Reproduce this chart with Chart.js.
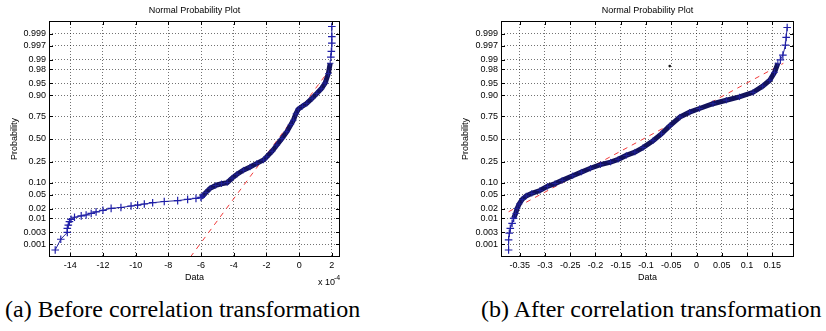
<!DOCTYPE html>
<html>
<head>
<meta charset="utf-8">
<script src="https://cdn.jsdelivr.net/npm/chart.js@4.4.0/dist/chart.umd.min.js"></script>
<style>
  html, body { margin: 0; padding: 0; background: #fff; }
  #page { position: relative; width: 826px; height: 331px; overflow: hidden; }
  .panel { position: absolute; top: 0; width: 413px; height: 295px; }
  .caption { position: absolute; top: 295px; font: 24px 'Liberation Serif', 'Times New Roman', serif;
             line-height: 28px; white-space: nowrap; color: #000; }
</style>
</head>
<body>
<div id="page">
  <div class="panel" style="left:0"><canvas id="plotA"></canvas></div>
  <div class="panel" style="left:413px"><canvas id="plotB"></canvas></div>
  <div class="caption" style="left:5px">(a) Before correlation transformation</div>
  <div class="caption" style="left:481px">(b) After correlation transformation</div>
</div>
<script>
// probability axis (same on both plots)
const probTicks = [0.001, 0.003, 0.01, 0.02, 0.05, 0.10, 0.25, 0.50, 0.75, 0.90, 0.95, 0.98, 0.99, 0.997, 0.999];
const probLabels = ['0.001', '0.003', '0.01', '0.02', '0.05', '0.10', '0.25', '0.50', '0.75', '0.90', '0.95', '0.98', '0.99', '0.997', '0.999'];

// (a) before correlation transformation, data in units of 1e-4
const ticksA = [-14, -12, -10, -8, -6, -4, -2, 0, 2];
const labelsA = ['-14', '-12', '-10', '-8', '-6', '-4', '-2', '0', '2'];
const lowA_x = [-14.92, -14.58, -14.18, -14.18, -14.12, -14.05, -13.95, -13.74, -13.33, -13.03, -12.72, -12.42,
                -12.0, -11.5, -10.9, -10.28, -9.88, -9.47, -8.96, -8.25, -7.43, -6.82, -6.31, -6.0];
const lowA_p = [0.00055, 0.0016, 0.003, 0.0043, 0.0057, 0.0075, 0.0091, 0.0107, 0.0119, 0.0127, 0.0143, 0.016,
                0.018, 0.0207, 0.022, 0.0244, 0.026, 0.028, 0.0305, 0.033, 0.035, 0.038, 0.0405, 0.043];
const bodyA_x = [-6.0, -5.9, -5.7, -5.44, -5.1, -4.75, -4.4, -4.1, -3.8, -3.41, -3.0, -2.59, -2.18, -1.98, -1.65,
                 -1.36, -1.05, -0.75, -0.5, -0.35, -0.2, -0.05, 0.2, 0.47, 0.8, 1.08, 1.35, 1.59, 1.79, 1.9];
const bodyA_p = [0.043, 0.047, 0.058, 0.074, 0.086, 0.094, 0.10, 0.125, 0.15, 0.18, 0.205, 0.237, 0.268, 0.30, 0.36,
                 0.43, 0.505, 0.585, 0.665, 0.71, 0.77, 0.81, 0.832, 0.853, 0.885, 0.91, 0.93, 0.95, 0.973, 0.987];
const highA_x = [1.94, 1.97, 2.0, 2.0, 2.0];
const highA_p = [0.992, 0.995, 0.9976, 0.9987, 0.99953];
const refA_x = [-6.65, 1.95];
const refA_p = [0.00026, 0.982];

// (b) after correlation transformation
const ticksB = [-0.35, -0.3, -0.25, -0.2, -0.15, -0.1, -0.05, 0, 0.05, 0.1, 0.15];
const labelsB = ['-0.35', '-0.3', '-0.25', '-0.2', '-0.15', '-0.1', '-0.05', '0', '0.05', '0.1', '0.15'];
const lowB_x = [-0.372, -0.372, -0.3706, -0.3686, -0.365, -0.362];
const lowB_p = [0.00055, 0.0015, 0.0028, 0.0043, 0.0066, 0.0099];
const bodyB_x = [-0.362, -0.358, -0.355, -0.351, -0.345, -0.337, -0.326, -0.31, -0.295, -0.28, -0.266, -0.245,
                 -0.228, -0.21, -0.19, -0.17, -0.155, -0.139, -0.122, -0.106, -0.086, -0.0695, -0.053, -0.033,
                 -0.0135, 0.006, 0.0326, 0.059, 0.085, 0.112, 0.131, 0.145, 0.1545, 0.161];
const bodyB_p = [0.0099, 0.0143, 0.0207, 0.028, 0.038, 0.047, 0.055, 0.065, 0.082, 0.095, 0.112, 0.14,
                 0.165, 0.195, 0.225, 0.248, 0.275, 0.315, 0.35, 0.40, 0.48, 0.56, 0.65, 0.74,
                 0.785, 0.815, 0.85, 0.873, 0.892, 0.915, 0.94, 0.958, 0.975, 0.987];
const highB_x = [0.166, 0.171, 0.176, 0.1775, 0.1795];
const highB_p = [0.990, 0.9932, 0.9971, 0.9986, 0.99948];
const refB_x = [-0.372, 0.172];
const refB_p = [0.0162, 0.987];
const speckB_x = [-0.053];
const speckB_p = [0.984];

// inverse normal cdf (Acklam)
function probit(p) {
  if (!(p > 0 && p < 1)) return NaN;
  const a = [-39.69683028665376, 220.9460984245205, -275.9285104469687, 138.3577518672690, -30.66479806614716, 2.506628277459239];
  const b = [-54.47609879822406, 161.5858368580409, -155.6989798598866, 66.80131188771972, -13.28068155288572];
  const c = [-0.007784894002430293, -0.3223964580411365, -2.400758277161838, -2.549732539343734, 4.374664141464968, 2.938163982698783];
  const d = [0.007784695709041462, 0.3224671290700398, 2.445134137142996, 3.754408661907416];
  const tail = q => (((((c[0] * q + c[1]) * q + c[2]) * q + c[3]) * q + c[4]) * q + c[5]) /
                    ((((d[0] * q + d[1]) * q + d[2]) * q + d[3]) * q + 1);
  if (p < 0.02425) return tail(Math.sqrt(-2 * Math.log(p)));
  if (p > 1 - 0.02425) return -tail(Math.sqrt(-2 * Math.log(1 - p)));
  const q = p - 0.5, r = q * q;
  return (((((a[0] * r + a[1]) * r + a[2]) * r + a[3]) * r + a[4]) * r + a[5]) * q /
         (((((b[0] * r + b[1]) * r + b[2]) * r + b[3]) * r + b[4]) * r + 1);
}

// linear in z, values given as probabilities
class ProbitScale extends Chart.LinearScale {
  determineDataLimits() {
    this.min = this.options.zMin ?? -3.47;
    this.max = this.options.zMax ?? 3.47;
  }
  buildTicks() {
    return probTicks.map(p => ({ value: p }));
  }
  getPixelForValue(value) {
    return super.getPixelForValue(probit(value));
  }
}
ProbitScale.id = 'probit';
ProbitScale.defaults = {};
Chart.register(ProbitScale);

const pts = (xs, ps) => xs.map((x, i) => ({ x: x, y: ps[i] }));
const tickFont = { family: "'Liberation Sans', Arial, sans-serif", size: 9 };
const gridColor = 'rgba(0,0,0,0.55)';

const frame = {
  id: 'frame',
  afterDraw(chart, args, opts) {
    const { ctx, chartArea: a, scales } = chart;
    ctx.save();
    ctx.strokeStyle = '#000';
    ctx.lineWidth = 1;
    ctx.strokeRect(a.left + 0.5, a.top + 0.5, a.width - 1, a.height - 1);
    ctx.beginPath();
    scales.x.ticks.forEach((t, i) => {
      const px = Math.round(scales.x.getPixelForTick(i)) + 0.5;
      ctx.moveTo(px, a.bottom); ctx.lineTo(px, a.bottom - 4);
      ctx.moveTo(px, a.top); ctx.lineTo(px, a.top + 4);
    });
    scales.y.ticks.forEach((t, i) => {
      const py = Math.round(scales.y.getPixelForTick(i)) + 0.5;
      ctx.moveTo(a.left, py); ctx.lineTo(a.left + 4, py);
      ctx.moveTo(a.right, py); ctx.lineTo(a.right - 4, py);
    });
    ctx.stroke();
    ctx.fillStyle = '#000';
    ctx.font = "9px 'Liberation Sans', Arial, sans-serif";
    ctx.textAlign = 'center';
    ctx.textBaseline = 'middle';
    ctx.fillText(opts.title, (a.left + a.right) / 2, 11);
    if (opts.exponent) {
      ctx.textAlign = 'left';
      ctx.fillText('x 10', a.right - 22, a.bottom + 26);
      ctx.font = "7px 'Liberation Sans', Arial, sans-serif";
      ctx.fillText(opts.exponent, a.right - 6, a.bottom + 21);
    }
    ctx.restore();
  }
};

function makePlot(id, cfg) {
  new Chart(document.getElementById(id), {
    type: 'scatter',
    data: {
      datasets: [
        { data: pts(cfg.low[0], cfg.low[1]), showLine: true, borderColor: '#2a2a9c', borderWidth: 1,
          pointStyle: 'cross', pointRadius: 3.8, pointBorderWidth: 1.2, pointBorderColor: '#1f1fa8' },
        { data: pts(cfg.high[0], cfg.high[1]), showLine: true, borderColor: '#2a2a9c', borderWidth: 1,
          pointStyle: 'cross', pointRadius: 3.8, pointBorderWidth: 1.2, pointBorderColor: '#1f1fa8' },
        { data: pts(cfg.body[0], cfg.body[1]), showLine: true, borderColor: '#12125c', borderWidth: 5,
          pointStyle: 'cross', pointRadius: 3.2, pointBorderWidth: 1, pointBorderColor: '#22229a' },
        { data: cfg.speck ? pts(cfg.speck[0], cfg.speck[1]) : [], pointStyle: 'circle', pointRadius: 1.3,
          pointBorderWidth: 0, pointBackgroundColor: '#111' },
        { data: pts(cfg.ref[0], cfg.ref[1]), showLine: true, borderColor: '#f03a3a', borderWidth: 1,
          borderDash: [5, 5], pointRadius: 0 }
      ]
    },
    options: {
      responsive: true,
      maintainAspectRatio: false,
      animation: false,
      events: [],
      layout: { padding: { left: cfg.padLeft, right: cfg.padRight, top: 21, bottom: 0 } },
      plugins: {
        legend: { display: false },
        tooltip: { enabled: false },
        frame: { title: 'Normal Probability Plot', exponent: cfg.exponent }
      },
      scales: {
        x: {
          type: 'linear',
          min: cfg.xMin,
          max: cfg.xMax,
          afterBuildTicks: s => { s.ticks = cfg.ticks.map(v => ({ value: v })); },
          afterFit: s => { s.height = 38; },
          ticks: { autoSkip: false, maxRotation: 0, padding: 3, color: '#000', font: tickFont,
                   callback: (v, i) => cfg.labels[i] },
          grid: { color: gridColor, lineWidth: 1, drawTicks: false },
          border: { display: false, dash: [1, 2] },
          title: { display: true, text: 'Data', color: '#000', font: tickFont, padding: { top: 12, bottom: 12 } }
        },
        y: {
          type: 'probit',
          zMin: -3.47,
          zMax: 3.47,
          afterFit: s => { s.width = cfg.yWidth; },
          ticks: { autoSkip: false, padding: 3, color: '#000', font: tickFont,
                   callback: (v, i) => probLabels[i] },
          grid: { color: gridColor, lineWidth: 1, drawTicks: false },
          border: { display: false, dash: [1, 2] },
          title: { display: true, text: 'Probability', color: '#000', font: tickFont, padding: { top: 9, bottom: 9 } }
        }
      }
    },
    plugins: [frame]
  });
}

makePlot('plotA', {
  low: [lowA_x, lowA_p], body: [bodyA_x, bodyA_p], high: [highA_x, highA_p], ref: [refA_x, refA_p],
  ticks: ticksA, labels: labelsA, xMin: -15.3, xMax: 2.5, exponent: '-4',
  padLeft: 0, padRight: 73, yWidth: 49
});
makePlot('plotB', {
  low: [lowB_x, lowB_p], body: [bodyB_x, bodyB_p], high: [highB_x, highB_p], ref: [refB_x, refB_p],
  speck: [speckB_x, speckB_p],
  ticks: ticksB, labels: labelsB, xMin: -0.387, xMax: 0.193,
  padLeft: 38, padRight: 32, yWidth: 50
});
</script>
</body>
</html>
